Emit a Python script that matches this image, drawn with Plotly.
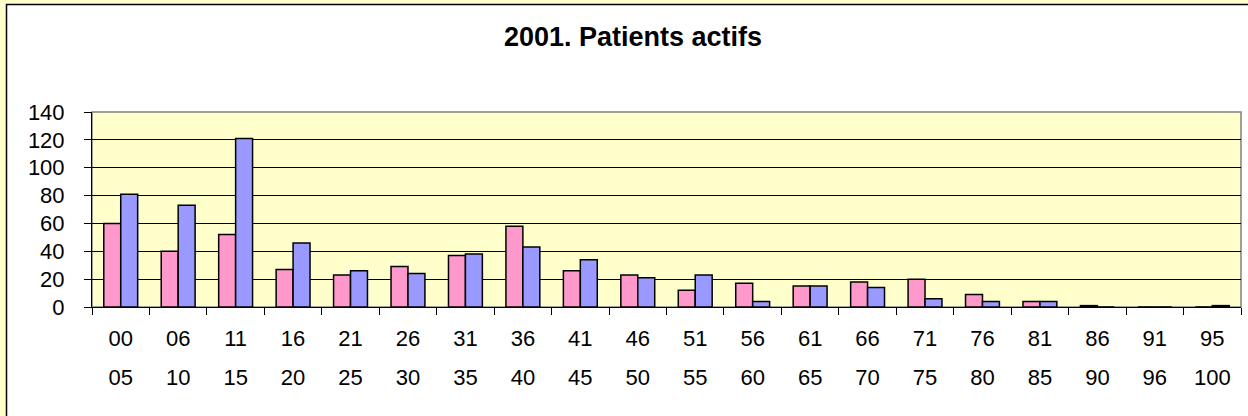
import plotly.graph_objects as go

categories = ["00-05", "06-10", "11-15", "16-20", "21-25", "26-30", "31-35", "36-40",
              "41-45", "46-50", "51-55", "56-60", "61-65", "66-70", "71-75", "76-80",
              "81-85", "86-90", "91-96", "95-100"]
tick_top = ["00", "06", "11", "16", "21", "26", "31", "36", "41", "46",
            "51", "56", "61", "66", "71", "76", "81", "86", "91", "95"]
tick_bottom = ["05", "10", "15", "20", "25", "30", "35", "40", "45", "50",
               "55", "60", "65", "70", "75", "80", "85", "90", "96", "100"]
series_pink = [60, 40, 52, 27, 23, 29, 37, 58, 26, 23, 12, 17, 15, 18, 20, 9, 4, 1, 0, 0]
series_blue = [81, 73, 121, 46, 26, 24, 38, 43, 34, 21, 23, 4, 15, 14, 6, 4, 4, 0, 0, 1]
y_ticks = [0, 20, 40, 60, 80, 100, 120, 140]
title_text = "2001. Patients actifs"

W, H = 1248, 416
L, R, T, B = 92, 7, 112, 109
pw, ph = W - L - R, H - T - B

def px_x(p):
    return (p - L) / pw

def px_y(p):
    return (H - B - p) / ph

idx = list(range(len(categories)))

fig = go.Figure()
fig.add_trace(go.Bar(x=categories, y=series_pink,
                     marker=dict(color="#FF99CC", line=dict(color="black", width=1.5)), showlegend=False))
fig.add_trace(go.Bar(x=categories, y=series_blue,
                     marker=dict(color="#9999FF", line=dict(color="black", width=1.5)), showlegend=False))
# helper (invisible) trace carrying the second row of category labels
fig.add_trace(go.Scatter(x=idx, y=[None] * len(idx), xaxis="x2", mode="markers",
                         showlegend=False, hoverinfo="skip"))

fig.update_layout(
    width=W, height=H,
    margin=dict(l=L, r=R, t=T, b=B, pad=0),
    paper_bgcolor="#FFFFCC",
    plot_bgcolor="rgba(0,0,0,0)",
    barmode="group",
    bargap=0.41,
    bargroupgap=0.0,
    font=dict(family="Liberation Sans, Arial, sans-serif", size=22, color="black"),
    title=dict(text="<b>" + title_text + "</b>", x=633 / W, xref="container", xanchor="center",
               y=1 - 37 / H, yref="container", yanchor="middle",
               font=dict(size=27, family="Liberation Sans, Arial, sans-serif", color="black")),
    shapes=[
        dict(type="rect", xref="paper", yref="paper", x0=px_x(6.5), x1=px_x(1300), y0=px_y(4.5), y1=px_y(460),
             fillcolor="white", line=dict(color="black", width=1.5), layer="below"),
        dict(type="rect", xref="paper", yref="paper", x0=0, x1=1, y0=0, y1=1,
             fillcolor="#FFFFCC", line=dict(color="#808080", width=1.5), layer="below"),
    ],
    xaxis=dict(type="category", showline=True, linecolor="black", linewidth=1,
               ticks="outside", tickson="boundaries", ticklen=7, tickcolor="black", tickwidth=1,
               showgrid=False, ticklabelstandoff=12, tickfont=dict(size=22),
               tickmode="array", tickvals=categories, ticktext=tick_top),
    xaxis2=dict(overlaying="x", anchor="y", side="bottom", range=[-0.5, len(categories) - 0.5],
                tickmode="array", tickvals=idx, ticktext=tick_bottom, showline=False, showgrid=False,
                zeroline=False, ticks="outside", ticklen=7, tickcolor="rgba(0,0,0,0)",
                ticklabelstandoff=44, tickfont=dict(size=22), fixedrange=True),
    yaxis=dict(range=[0, 140], tickvals=y_ticks, showline=True, linecolor="black", linewidth=1,
               ticks="outside", ticklen=7, tickcolor="black", tickwidth=1,
               showgrid=True, gridcolor="black", gridwidth=1, zeroline=False,
               ticklabelstandoff=15, tickfont=dict(size=22)),
)

fig.write_html("out.html", config={"displayModeBar": False},
               post_script="document.body.style.margin='0';document.body.style.padding='0';")
